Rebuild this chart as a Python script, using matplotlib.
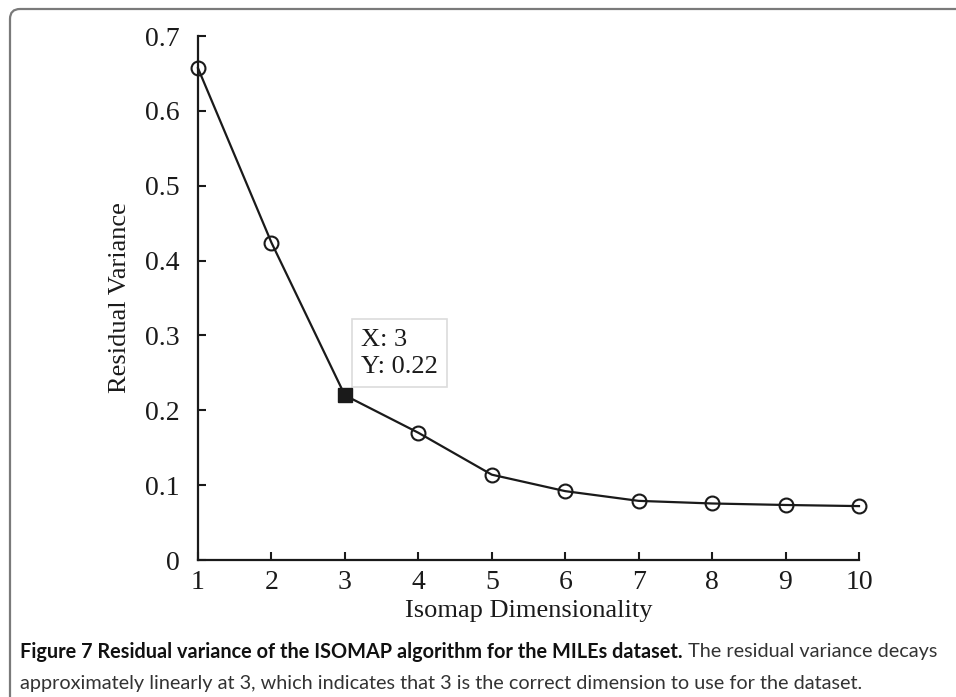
import matplotlib
matplotlib.use("Agg")
import matplotlib.pyplot as plt
from matplotlib.patches import FancyBboxPatch
from matplotlib.transforms import IdentityTransform

# Residual variance for each embedding dimensionality
dims = [1, 2, 3, 4, 5, 6, 7, 8, 9, 10]
residual_var = [0.657, 0.424, 0.22, 0.170, 0.114, 0.092, 0.079, 0.0755, 0.0735, 0.072]
pick_index = 2
x_ticks = [1, 2, 3, 4, 5, 6, 7, 8, 9, 10]
y_ticks = [0, 0.1, 0.2, 0.3, 0.4, 0.5, 0.6, 0.7]
y_tick_labels = ["0", "0.1", "0.2", "0.3", "0.4", "0.5", "0.6", "0.7"]

W, H = 956, 697
fig = plt.figure(figsize=(W / 100, H / 100), dpi=100)
fig.patch.set_facecolor("white")

serif = ["Liberation Serif", "DejaVu Serif"]
ink = "#1a1a1a"

# Plot area
ax_l, ax_r, ax_t, ax_b = 198, 859, 36, 560
ax = fig.add_axes([ax_l / W, 1 - ax_b / H, (ax_r - ax_l) / W, (ax_b - ax_t) / H])
ax.plot(dims, residual_var, color=ink, lw=1.6, zorder=3, clip_on=False)
other = [i for i in range(len(dims)) if i != pick_index]
ax.plot([dims[i] for i in other], [residual_var[i] for i in other],
        ls="none", marker="o", ms=10, mfc="none", mec=ink, mew=1.5,
        zorder=4, clip_on=False)
ax.plot([dims[pick_index]], [residual_var[pick_index]], marker="s", ms=10,
        color=ink, mec=ink, ls="none", zorder=5, clip_on=False)

ax.set_xlim(1, 10)
ax.set_ylim(0, 0.7)
ax.set_xticks(x_ticks)
ax.set_yticks(y_ticks)
ax.set_yticklabels(y_tick_labels)
for s in ("top", "right"):
    ax.spines[s].set_visible(False)
for s in ("left", "bottom"):
    ax.spines[s].set_linewidth(1.6)
    ax.spines[s].set_color(ink)
ax.tick_params(direction="in", length=6, width=1.5, colors=ink)
ax.tick_params(axis="y", pad=13)
ax.tick_params(axis="x", pad=7)
for lab in ax.get_xticklabels() + ax.get_yticklabels():
    lab.set_fontfamily(serif)
    lab.set_fontsize(20)
    lab.set_color(ink)

ax.set_xlabel("Isomap Dimensionality", fontfamily=serif, fontsize=19,
              color=ink, labelpad=4)
ax.set_ylabel("Residual Variance", fontfamily=serif, fontsize=19,
              color=ink, labelpad=10)

# Data tip for the selected point
tip = f"X: {dims[pick_index]}\nY: {residual_var[pick_index]:.2f}"
ax.annotate(tip, xy=(dims[pick_index], residual_var[pick_index]),
            xytext=(11.5, 48), textcoords="offset points",
            fontfamily=serif, fontsize=19, color=ink, linespacing=1.3,
            ha="left", va="top",
            bbox=dict(boxstyle="square,pad=0.35", fc="white",
                      ec="#dcdcdc", lw=1.2))

# Caption
cap_bold = "Figure 7 Residual variance of the ISOMAP algorithm for the MILEs dataset."
cap_rest1 = " The residual variance decays"
cap_line2 = ("approximately linearly at 3, which indicates that 3 is the correct "
             "dimension to use for the dataset.")
sans = ["Lato", "DejaVu Sans"]
cap_size = 14.3
t1 = fig.text(20 / W, 1 - 652 / H, cap_bold, fontfamily=sans, fontweight="bold",
              fontsize=cap_size, color="#111111", va="center", ha="left")
fig.canvas.draw()
bb = t1.get_window_extent()
fig.text(bb.x1 / W, 1 - 652 / H, cap_rest1, fontfamily=sans, fontsize=cap_size,
         color="#333333", va="center", ha="left")
fig.text(20 / W, 1 - 683 / H, cap_line2, fontfamily=sans, fontsize=cap_size,
         color="#333333", va="center", ha="left")

# Rounded frame running off the right and bottom edges
frame = FancyBboxPatch((10, -40), W + 40, H + 40 - 9,
                       boxstyle="round,pad=0,rounding_size=10",
                       transform=IdentityTransform(), fc="none",
                       ec="#7a7a7a", lw=1.6, clip_on=False)
fig.add_artist(frame)

fig.savefig("out.png", dpi=100, facecolor="white")
